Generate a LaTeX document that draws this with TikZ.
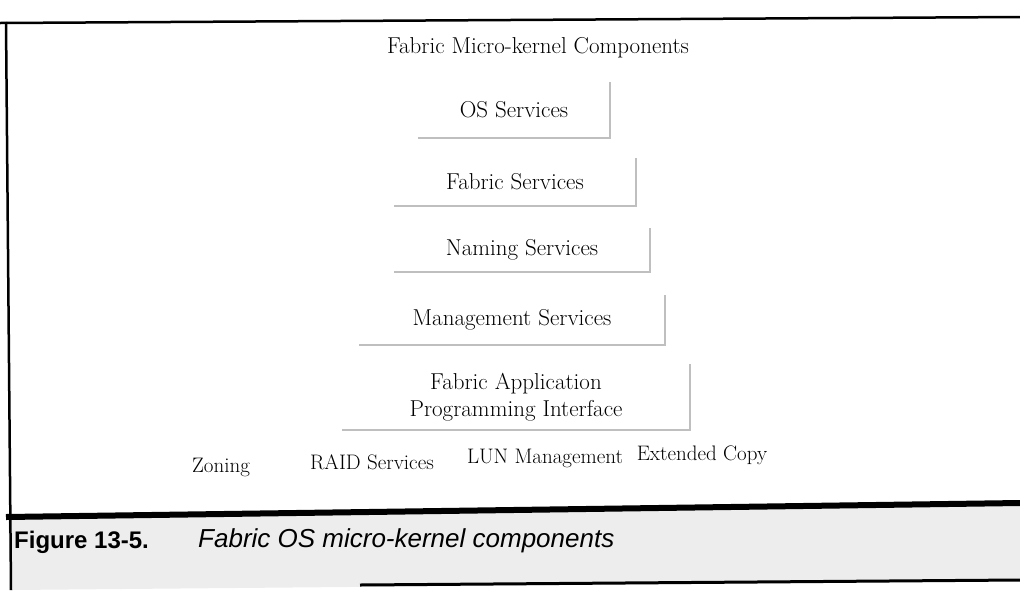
\documentclass[tikz,border=0pt]{standalone}
\usepackage{fontspec}
\newfontfamily\capfont{Liberation Sans}
\usetikzlibrary{positioning}

\tikzset{
  label/.style={font=\fontsize{21}{25}\selectfont, inner sep=0pt},
  layer/.style={font=\fontsize{23}{27}\selectfont, inner sep=0pt, align=center},
  edge/.style={draw=gray!50, line width=1.8pt},
}

\begin{document}
\begin{tikzpicture}[x=1pt,y=-1pt]
      \useasboundingbox (0,0) rectangle (1020,590);

      % Caption band
      \fill[gray!14] (8,517) -- (1020,503) -- (1020,581) -- (11,590) -- cycle;

      % Frame
      \draw[line width=2.5pt] (0,23) -- (1020,17);
      \draw[line width=2.5pt] (6,22) -- (11,590);
      \draw[line width=6pt] (6,517) -- (1020,503);
      \draw[line width=3pt] (360,585) -- (1020,580);

      % Title
      \node[layer] (title) at (538,48) {Fabric Micro-kernel Components};

      % Layers
      \node[layer, minimum width=192, minimum height=55] (os) at (514,110) {OS Services};
      \node[layer, minimum width=241, minimum height=48] (fab) at (515,182) {Fabric Services};
      \node[layer, minimum width=255, minimum height=44] (nam) at (522,250) {Naming Services};
      \node[layer, minimum width=305, minimum height=49] (mgmt) at (512,320) {Management Services};
      \node[layer, minimum width=348, minimum height=65] (api) at (516,397) {Fabric Application\\Programming Interface};

      \foreach \n in {os,fab,nam,mgmt,api}
        \draw[edge] (\n.south west) -- (\n.south east) -- (\n.north east);

      % Bottom row
      \node[label] (zone) at (221,467) {Zoning};
      \node[label] (raid) at (372,462) {RAID Services};
      \node[label] (lun) at (545,458) {LUN Management};
      \node[label] (copy) at (702,455) {Extended Copy};

      % Caption
      \node[anchor=base west, inner sep=0pt, font=\capfont\bfseries\fontsize{24}{28}\selectfont] (fig) at (14,548) {Figure 13-5.};
      \node[anchor=base west, inner sep=0pt, font=\capfont\itshape\fontsize{26}{30}\selectfont] (cap) at (198,547) {Fabric OS micro-kernel components};
    \end{tikzpicture}
\end{document}
